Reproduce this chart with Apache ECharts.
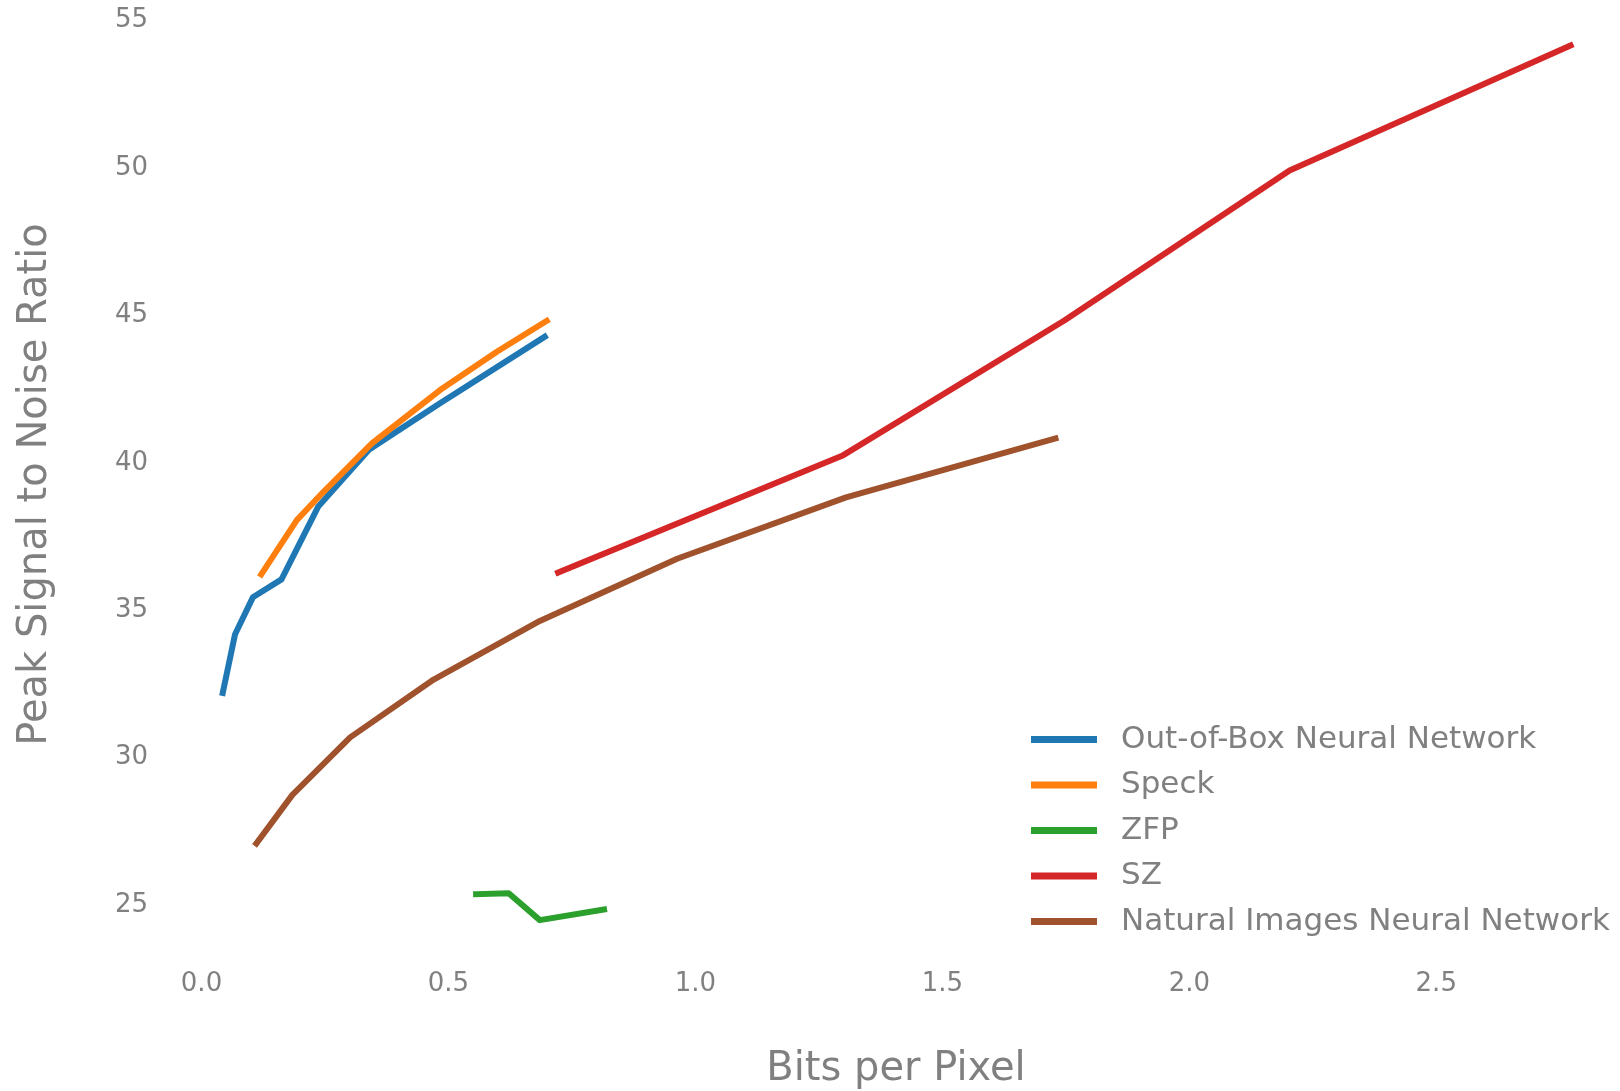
<!DOCTYPE html>
<html>
<head>
<meta charset="utf-8">
<title>PSNR vs Bits per Pixel</title>
<script src="https://cdn.jsdelivr.net/npm/echarts@6/dist/echarts.min.js"></script>
<style>
  html, body { margin: 0; padding: 0; background: #ffffff; }
  #chart { width: 1620px; height: 1091px; }
</style>
</head>
<body>
<div id="chart"></div>
<script>
// Rate–distortion curves: bits per pixel (x) against PSNR (y)
const seriesNames = [
  'Out-of-Box Neural Network',
  'Speck',
  'ZFP',
  'SZ',
  'Natural Images Neural Network'
];

const outOfBoxBpp  = [0.043, 0.068, 0.104, 0.162, 0.236, 0.339, 0.483, 0.695];
const outOfBoxPsnr = [32.20, 34.19, 35.44, 36.05, 38.51, 40.45, 42.02, 44.28];

const speckBpp  = [0.121, 0.193, 0.247, 0.345, 0.483, 0.598, 0.699];
const speckPsnr = [36.22, 38.06, 39.02, 40.66, 42.47, 43.77, 44.82];

const zfpBpp  = [0.556, 0.622, 0.685, 0.815];
const zfpPsnr = [25.37, 25.40, 24.49, 24.85];

const szBpp  = [0.722, 1.297, 1.747, 2.203, 2.772];
const szPsnr = [36.28, 40.24, 44.83, 49.92, 54.16];

const naturalBpp  = [0.111, 0.184, 0.301, 0.470, 0.685, 0.963, 1.305, 1.729];
const naturalPsnr = [27.09, 28.74, 30.69, 32.65, 34.64, 36.75, 38.83, 40.83];

const xTicks = [0.0, 0.5, 1.0, 1.5, 2.0, 2.5];
const yTicks = [25, 30, 35, 40, 45, 50, 55];

const colors = ['#1f77b4', '#ff7f0e', '#2ca02c', '#d62728', '#a0522d'];
const textGrey = '#808080';
const fontFamily = 'DejaVu Sans';

const xs = [outOfBoxBpp, speckBpp, zfpBpp, szBpp, naturalBpp];
const ys = [outOfBoxPsnr, speckPsnr, zfpPsnr, szPsnr, naturalPsnr];

function pairs(xArr, yArr) {
  return xArr.map((x, i) => [x, yArr[i]]);
}

const series = seriesNames.map((name, i) => ({
  name: name,
  type: 'line',
  data: pairs(xs[i], ys[i]),
  showSymbol: false,
  symbol: 'none',
  color: colors[i],
  lineStyle: { width: 6, color: colors[i], cap: 'square', join: 'round' },
  emphasis: { disabled: true },
  z: 2 + i
}));

const chart = echarts.init(document.getElementById('chart'), null, { renderer: 'canvas' });

chart.setOption({
  animation: false,
  backgroundColor: '#ffffff',
  color: colors,
  grid: {
    left: 201.5,
    right: 1620 - (201.5 + 2.8 * 493.9),
    top: 20.7,
    bottom: 1091 - (20.7 + 35 * 29.48)
  },
  xAxis: {
    type: 'value',
    min: 0,
    max: 2.8,
    interval: 0.5,
    offset: -88.4,
    axisLine: { show: false },
    axisTick: { show: false },
    splitLine: { show: false },
    axisLabel: {
      show: true,
      margin: 7,
      showMaxLabel: false,
      color: textGrey,
      fontSize: 26,
      fontFamily: fontFamily,
      formatter: function (v) {
        return xTicks.some(t => Math.abs(t - v) < 1e-9) ? v.toFixed(1) : '';
      }
    }
  },
  yAxis: {
    type: 'value',
    min: 20,
    max: 55,
    interval: 5,
    axisLine: { show: false },
    axisTick: { show: false },
    splitLine: { show: false },
    axisLabel: {
      show: true,
      margin: 53.5,
      showMinLabel: false,
      color: textGrey,
      fontSize: 26,
      fontFamily: fontFamily,
      padding: [10, 0, 0, 0],
      formatter: function (v) {
        return yTicks.indexOf(v) >= 0 ? String(v) : '';
      }
    }
  },
  legend: {
    orient: 'vertical',
    left: 1026,
    top: 719,
    icon: 'rect',
    itemWidth: 66,
    itemHeight: 7,
    itemGap: 14.5,
    selectedMode: false,
    data: seriesNames,
    textStyle: {
      color: textGrey,
      fontSize: 31,
      fontFamily: fontFamily,
      padding: [0, 0, 0, 19]
    }
  },
  graphic: [
    {
      type: 'text',
      x: 896,
      y: 1070,
      style: {
        text: 'Bits per Pixel',
        fill: textGrey,
        font: '40px "DejaVu Sans"',
        textAlign: 'center',
        textVerticalAlign: 'middle'
      }
    },
    {
      type: 'text',
      x: 36,
      y: 484.5,
      rotation: Math.PI / 2,
      style: {
        text: 'Peak Signal to Noise Ratio',
        fill: textGrey,
        font: '40px "DejaVu Sans"',
        textAlign: 'center',
        textVerticalAlign: 'middle'
      }
    }
  ],
  series: series
});
</script>
</body>
</html>
